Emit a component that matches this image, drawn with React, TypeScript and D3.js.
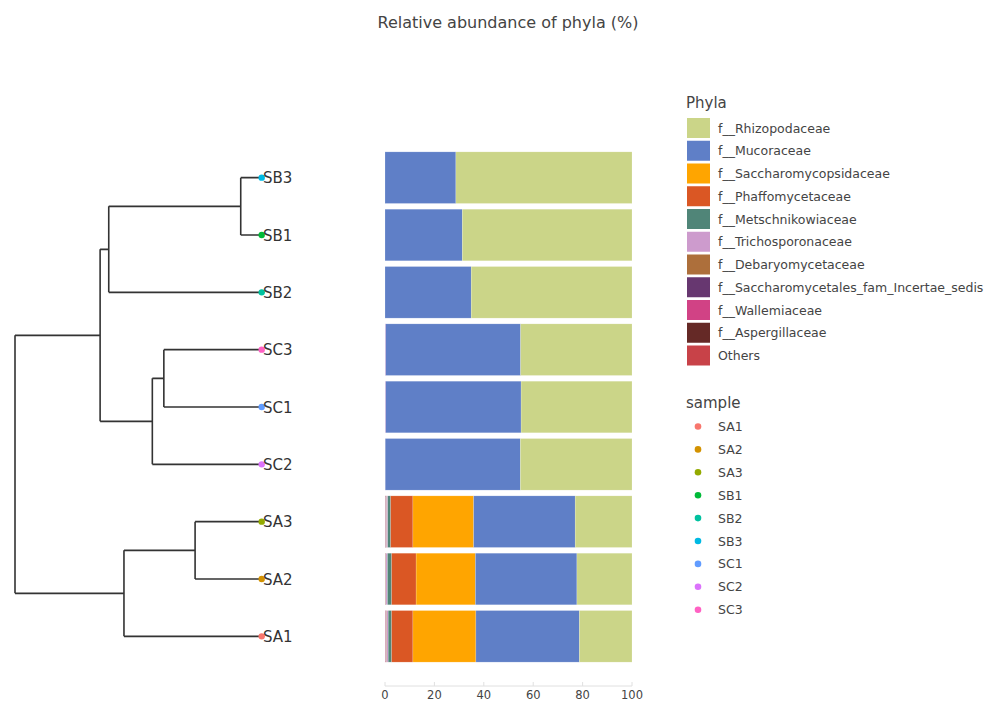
import React from "react";
import * as d3 from "d3";

// sample order as drawn top -> bottom (dendrogram leaf order)
const samples = ["SB3", "SB1", "SB2", "SC3", "SC1", "SC2", "SA3", "SA2", "SA1"];
const legendSamples = ["SA1", "SA2", "SA3", "SB1", "SB2", "SB3", "SC1", "SC2", "SC3"];
const sampleColors = ["#F8766D", "#D39200", "#93AA00", "#00BA38", "#00C19F", "#00B9E3", "#619CFF", "#DB72FB", "#FF61C3"];

// legend order (stack is drawn in reverse, Others at the left)
const families = [
  "f__Rhizopodaceae",
  "f__Mucoraceae",
  "f__Saccharomycopsidaceae",
  "f__Phaffomycetaceae",
  "f__Metschnikowiaceae",
  "f__Trichosporonaceae",
  "f__Debaryomycetaceae",
  "f__Saccharomycetales_fam_Incertae_sedis",
  "f__Wallemiaceae",
  "f__Aspergillaceae",
  "Others",
];
const familyColors = ["#CBD588", "#5F7FC7", "#FFA500", "#DA5724", "#508578", "#CD9BCD", "#AD6F3B", "#673770", "#D14285", "#652926", "#C84248"];

// values in %, same order as `samples`
const rhizopodaceae = [71.3, 68.7, 65.1, 45.1, 44.9, 45.2, 23.0, 22.3, 21.3];
const mucoraceae = [28.7, 31.3, 34.9, 54.6, 54.8, 54.7, 41.1, 41.1, 41.9];
const saccharomycopsidaceae = [0, 0, 0, 0, 0, 0, 24.6, 24.0, 25.5];
const phaffomycetaceae = [0, 0, 0, 0, 0, 0, 9.0, 9.9, 8.6];
const metschnikowiaceae = [0, 0, 0, 0, 0, 0, 1.2, 1.7, 1.4];
const trichosporonaceae = [0, 0, 0, 0.3, 0.3, 0.1, 0.5, 0.6, 0.6];
const debaryomycetaceae = [0, 0, 0, 0, 0, 0, 0.2, 0.1, 0.2];
const saccharomycetales = [0, 0, 0, 0, 0, 0, 0.1, 0.1, 0.15];
const wallemiaceae = [0, 0, 0, 0, 0, 0, 0.05, 0.05, 0.1];
const aspergillaceae = [0, 0, 0, 0, 0, 0, 0.05, 0.05, 0.05];
const others = [0, 0, 0, 0, 0, 0, 0.2, 0.1, 0.2];

const familyValues = [
  rhizopodaceae, mucoraceae, saccharomycopsidaceae, phaffomycetaceae, metschnikowiaceae,
  trichosporonaceae, debaryomycetaceae, saccharomycetales, wallemiaceae, aspergillaceae, others,
];

const xTicks = [0, 20, 40, 60, 80, 100];

// clustering tree, merge heights
type Node = { name?: string; h: number; children?: Node[] };
const tree: Node = {
  h: 0.6,
  children: [
    {
      h: 0.393,
      children: [
        { h: 0.372, children: [{ h: 0.051, children: [{ name: "SB3", h: 0 }, { name: "SB1", h: 0 }] }, { name: "SB2", h: 0 }] },
        { h: 0.266, children: [{ h: 0.238, children: [{ name: "SC3", h: 0 }, { name: "SC1", h: 0 }] }, { name: "SC2", h: 0 }] },
      ],
    },
    { h: 0.335, children: [{ h: 0.162, children: [{ name: "SA3", h: 0 }, { name: "SA2", h: 0 }] }, { name: "SA1", h: 0 }] },
  ],
};

const FONT = "DejaVu Sans, Verdana, sans-serif";

export default function App() {
  const W = 985;
  const H = 702;

  const y = d3.scaleBand().domain(samples).range([149, 665]).paddingInner(0.1).paddingOuter(0.05);
  const x = d3.scaleLinear().domain([0, 100]).range([385, 632]);
  const hx = d3.scaleLinear().domain([0, 0.6]).range([261.7, 15]);

  // stacked segments, reverse legend order from the left
  const stackOrder = families.map((_, i) => i).reverse();
  const segs: { s: string; f: number; x0: number; x1: number }[] = [];
  samples.forEach((s, si) => {
    let acc = 0;
    stackOrder.forEach((fi) => {
      const v = familyValues[fi][si];
      if (v > 0) segs.push({ s, f: fi, x0: acc, x1: acc + v });
      acc += v;
    });
  });

  // dendrogram layout
  const root = d3.hierarchy<Node>(tree);
  const nodeY = (n: d3.HierarchyNode<Node>): number => {
    if (!n.children) return y(n.data.name!)! + y.bandwidth() / 2;
    const ys = n.children.map(nodeY);
    return (ys[0] + ys[ys.length - 1]) / 2;
  };
  const lines: string[] = [];
  root.each((n) => {
    if (!n.children) return;
    const xn = hx(n.data.h);
    const cy = n.children.map(nodeY);
    lines.push(`M${xn},${cy[0]}V${cy[cy.length - 1]}`);
    n.children.forEach((c, i) => {
      lines.push(`M${xn},${cy[i]}H${hx(c.data.h)}`);
    });
  });

  const sampleColor = (s: string) => sampleColors[legendSamples.indexOf(s)];

  return (
    <svg width={W} height={H} style={{ position: "absolute", left: 0, top: 0, background: "#fff" }} fontFamily={FONT}>
      <text x={508} y={28} textAnchor="middle" fontSize={16} fill="#444">
        Relative abundance of phyla (%)
      </text>

      {/* dendrogram */}
      <path d={lines.join("")} fill="none" stroke="#333" strokeWidth={1.6} />
      {samples.map((s) => {
        const cy = y(s)! + y.bandwidth() / 2;
        return (
          <g key={s}>
            <circle cx={hx(0)} cy={cy} r={3.2} fill={sampleColor(s)} />
            <text x={263} y={cy + 5.5} fontSize={15} fill="#333">
              {s}
            </text>
          </g>
        );
      })}

      {/* stacked bars */}
      {segs.map((d, i) => (
        <rect
          key={i}
          x={x(d.x0)}
          y={y(d.s)!}
          width={x(d.x1) - x(d.x0)}
          height={y.bandwidth()}
          fill={familyColors[d.f]}
          stroke="#fff"
          strokeOpacity={0.35}
          strokeWidth={0.5}
        />
      ))}

      {/* x axis */}
      <line x1={x(0)} x2={x(100)} y1={686} y2={686} stroke="#e0e0e0" strokeWidth={1} />
      {xTicks.map((t) => (
        <g key={t}>
          <line x1={x(t)} x2={x(t)} y1={686} y2={682} stroke="#e0e0e0" strokeWidth={1} />
          <text x={x(t)} y={699} textAnchor="middle" fontSize={11.5} fill="#444">
            {t}
          </text>
        </g>
      ))}

      {/* family legend */}
      <text x={686} y={108} fontSize={15} fill="#444">
        Phyla
      </text>
      {families.map((f, i) => {
        const cy = 128 + i * 22.75;
        return (
          <g key={f}>
            <rect x={687} y={cy - 10} width={23} height={20} fill={familyColors[i]} />
            <text x={718} y={cy + 4.5} fontSize={12.5} fill="#444">
              {f}
            </text>
          </g>
        );
      })}

      {/* sample legend */}
      <text x={686} y={408} fontSize={15} fill="#444">
        sample
      </text>
      {legendSamples.map((s, i) => {
        const cy = 426.5 + i * 22.9;
        return (
          <g key={s}>
            <circle cx={698} cy={cy} r={3.3} fill={sampleColors[i]} />
            <text x={718} y={cy + 4.5} fontSize={12.5} fill="#444">
              {s}
            </text>
          </g>
        );
      })}
    </svg>
  );
}
